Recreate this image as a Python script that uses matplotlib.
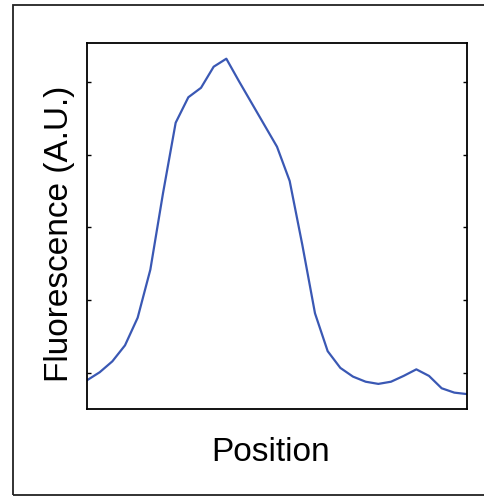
import matplotlib
matplotlib.use("Agg")
import matplotlib.pyplot as plt
from matplotlib.patches import Rectangle

# intensity profile (arbitrary units)
position = list(range(31))
fluorescence = [0.90, 1.01, 1.16, 1.38, 1.76, 2.42, 3.47, 4.44, 4.79, 4.92,
                5.21, 5.32, 5.01, 4.71, 4.41, 4.11, 3.64, 2.76, 1.82, 1.30,
                1.07, 0.95, 0.88, 0.85, 0.88, 0.96, 1.05, 0.96, 0.79, 0.73,
                0.71]
yticks = [1, 2, 3, 4, 5]

plt.rcParams['font.family'] = ['Liberation Sans', 'DejaVu Sans']

fig = plt.figure(figsize=(4.84, 4.97), dpi=100)

# outer frame, runs off the right edge like the reference
fig.patches.append(Rectangle((13/484, 2/497), 1.0, 490/497, transform=fig.transFigure,
                             fill=False, edgecolor='#222222', linewidth=1.3))

ax = fig.add_axes([87/484, 1 - 409/497, 380/484, 366/497])
ax.plot(position, fluorescence, color='#3a58b4', linewidth=1.6)

ax.set_xlim(0, 30)
ax.set_ylim(0.505, 5.536)
ax.set_xticks([])
ax.set_yticks(yticks)
ax.tick_params(axis='y', direction='in', length=3, width=1.0, left=True, right=True,
               labelleft=False, labelright=False)
for s in ax.spines.values():
    s.set_linewidth(1.3)
    s.set_color('black')

ax.set_xlabel('Position', fontsize=24)
ax.xaxis.set_label_coords(0.484, -0.119)
ax.xaxis.label.set_va('center')
ax.set_ylabel('Fluorescence (A.U.)', fontsize=24)
ax.yaxis.set_label_coords(-0.072, 0.48)
ax.yaxis.label.set_va('center')

fig.savefig('out.png', dpi=100)
